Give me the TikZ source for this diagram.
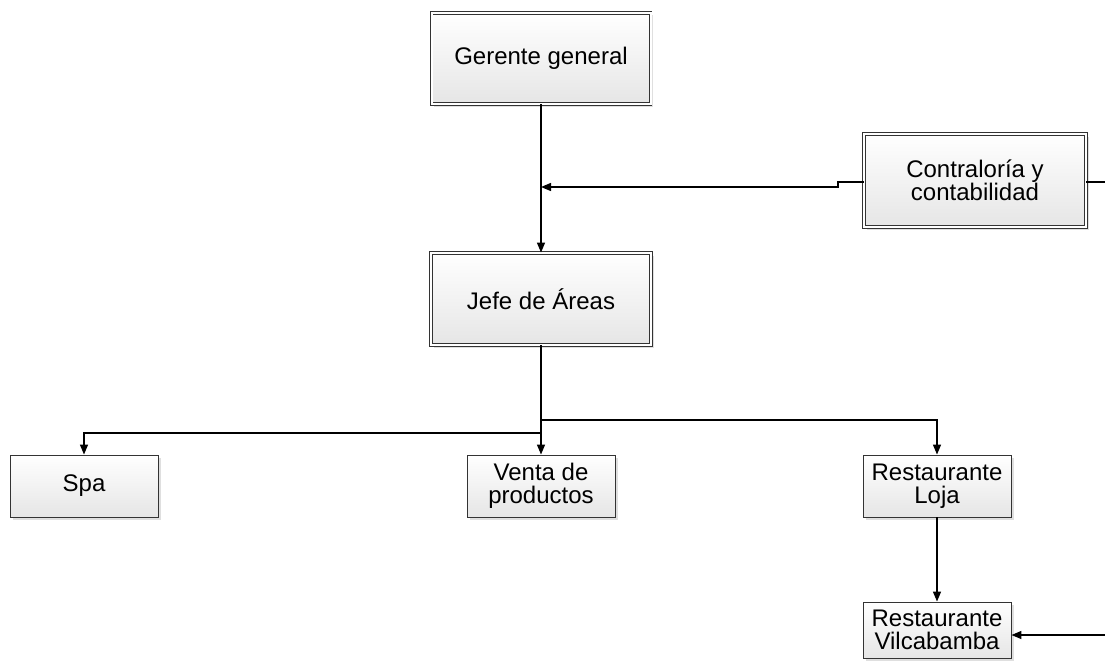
\documentclass[tikz,border=0pt]{standalone}
\usepackage{fontspec}
\setmainfont{Liberation Sans}
\usetikzlibrary{arrows.meta}
\usetikzlibrary{shadows}

\begin{document}
\begin{tikzpicture}[x=1pt,y=-1pt,
    every node/.style={font=\fontsize{24}{23.5}\selectfont, align=center},
    unit/.style={draw=black!80, line width=0.9pt, top color=white, bottom color=black!10,
        drop shadow={shadow xshift=2.5pt, shadow yshift=-2.5pt, opacity=0.25},
        minimum width=148pt, minimum height=62pt, inner sep=0pt},
    head/.style={unit, double=white, double distance=2pt},
    link/.style={line width=1.4pt, -{Triangle[length=10pt,width=8pt]}},
    wire/.style={line width=1.4pt}
]
\useasboundingbox (0,0) rectangle (1105,669);

\node[head, minimum width=219pt, minimum height=91pt] (gerente) at (541,58.5) {Gerente general};
\node[head, minimum width=222pt, minimum height=93pt] (contra) at (975,180.5) {Contraloría y\\contabilidad};
\node[head, minimum width=220pt, minimum height=92pt] (jefe) at (541,299) {Jefe de Áreas};

\node[unit] (spa) at (84,486) {Spa};
\node[unit] (venta) at (541,486) {Venta de\\productos};
\node[unit] (loja) at (937,486) {Restaurante\\Loja};
\node[unit, minimum height=56pt] (vilca) at (937,630) {Restaurante\\Vilcabamba};

\coordinate (jog) at (838,187);
\coordinate (outC) at (1105,182);
\coordinate (inV) at (1105,635);
\coordinate (forkR) at (541,420);
\coordinate (forkL) at (541,433);

\draw[link] (gerente) -- (jefe);
\draw[link] (contra.west |- 0,182) -- (jog |- 0,182) -- (jog) -- (gerente.south |- jog);
\draw[wire] (contra.east |- outC) -- (outC);

\draw[link] (jefe) -- (venta);
\draw[link] (forkR) -| (loja.north);
\draw[link] (forkL) -| (spa.north);
\draw[link] (loja) -- (vilca);
\draw[link] (inV) -- (inV -| vilca.east);
\end{tikzpicture}
\end{document}
